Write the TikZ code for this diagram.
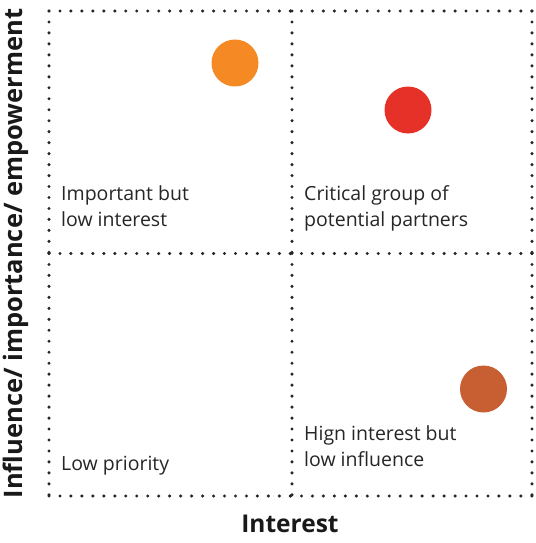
\documentclass[tikz,border=0pt]{standalone}
\usepackage{fontspec}
\setmainfont{Open Sans}
\definecolor{impcol}{HTML}{F58A25}
\definecolor{critcol}{HTML}{E63129}
\definecolor{highcol}{HTML}{C85F33}
\begin{document}
\begin{tikzpicture}[x=1pt,y=-1pt,
  grid/.style={line width=3.4pt,line cap=round,dash pattern=on 0pt off 10.97pt,black!85},
  blob/.style={circle,inner sep=0pt,minimum size=47pt},
  quad/.style={anchor=base west,align=left,inner sep=0pt,font=\fontsize{19.5}{26}\selectfont,text=black!85},
  axis/.style={anchor=base,inner sep=0pt,font=\fontsize{24.5}{26}\selectfont\bfseries,text=black!90}]
\useasboundingbox(0,0)rectangle(535,543);
\foreach \x in {49,292,532}{\draw[grid](\x,11)--(\x,253.5);\draw[grid](\x,253.5)--(\x,496);}
\foreach \y in {11,253.5,496}{\draw[grid](49,\y)--(290.5,\y);\draw[grid](290.5,\y)--(532,\y);}
\node[blob,fill=impcol](imp)at(235,63){};
\node[blob,fill=critcol](crit)at(408,110){};
\node[blob,fill=highcol](high)at(483.5,389){};
\node[quad](tl)at(61,226){Important but\\low interest};
\node[quad](tr)at(304,226){Critical group of\\potential partners};
\node[quad](bl)at(61,470){Low priority};
\node[quad](br)at(304,466){Hign interest but\\low influence};
\node[axis](xlab)at(290,532){Interest};
\node[axis,rotate=90,font=\fontsize{25.5}{26}\selectfont\bfseries](ylab)at(23,253.5){Influence/ importance/ empowerment};
\end{tikzpicture}
\end{document}
